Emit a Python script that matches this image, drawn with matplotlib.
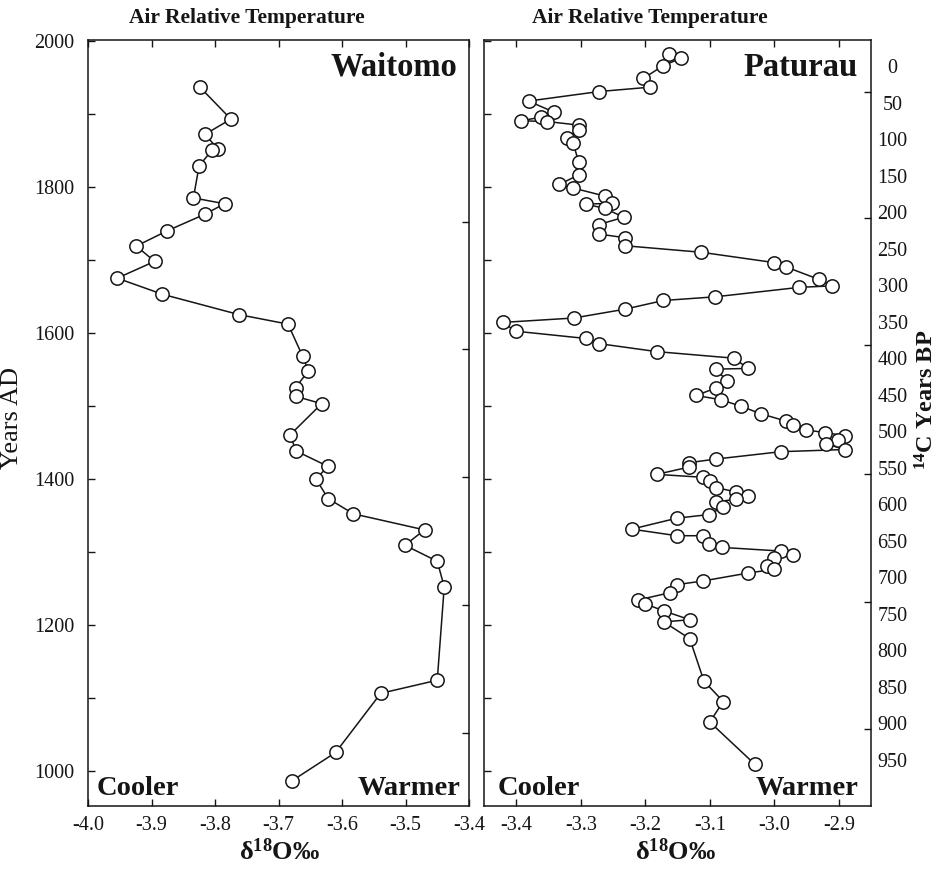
import matplotlib
matplotlib.use('Agg')
import matplotlib.pyplot as plt
from matplotlib.ticker import MultipleLocator, FixedLocator, NullFormatter

plt.rcParams['font.family'] = ['Liberation Serif', 'DejaVu Serif']
plt.rcParams['mathtext.fontset'] = 'custom'
plt.rcParams['mathtext.rm'] = 'Liberation Serif'
plt.rcParams['mathtext.bf'] = 'Liberation Serif:bold'
plt.rcParams['mathtext.it'] = 'Liberation Serif:italic'

# ---------------- data ----------------
waitomo_d18o = [-3.824, -3.775, -3.816, -3.795, -3.805, -3.825, -3.834, -3.785, -3.815,
                -3.875, -3.924, -3.895, -3.954, -3.883, -3.762, -3.685, -3.662, -3.653,
                -3.673, -3.673, -3.632, -3.682, -3.672, -3.622, -3.641, -3.622, -3.582,
                -3.470, -3.501, -3.450, -3.439, -3.450, -3.539, -3.610, -3.679]
waitomo_year_ad = [1937, 1893, 1872, 1852, 1850, 1829, 1785, 1777, 1763,
                   1740, 1719, 1698, 1675, 1653, 1625, 1612, 1568, 1548,
                   1525, 1513, 1503, 1460, 1438, 1417, 1400, 1373, 1352,
                   1330, 1309, 1287, 1252, 1124, 1106, 1025, 986]

paturau_d18o = [-3.163, -3.144, -3.173, -3.203, -3.193, -3.272, -3.381, -3.342, -3.362,
                -3.392, -3.352, -3.302, -3.302, -3.322, -3.312, -3.303, -3.303, -3.333,
                -3.312, -3.263, -3.251, -3.292, -3.263, -3.233, -3.272, -3.272, -3.232,
                -3.232, -3.113, -3.001, -2.982, -2.931, -2.911, -2.961, -3.092, -3.172,
                -3.232, -3.311, -3.421, -3.401, -3.292, -3.272, -3.182, -3.062, -3.041,
                -3.091, -3.073, -3.091, -3.121, -3.082, -3.051, -3.021, -2.982, -2.971,
                -2.951, -2.921, -2.890, -2.901, -2.920, -2.891, -2.990, -3.090, -3.132,
                -3.132, -3.182, -3.111, -3.100, -3.090, -3.060, -3.041, -3.060, -3.091,
                -3.080, -3.101, -3.151, -3.221, -3.151, -3.111, -3.101, -3.081, -2.990,
                -2.971, -3.000, -3.011, -3.000, -3.040, -3.111, -3.151, -3.162, -3.211,
                -3.201, -3.171, -3.131, -3.171, -3.131, -3.109, -3.079, -3.100, -3.030]
paturau_year_bp = [-17, -11, 0, 17, 29, 35, 48, 63, 70,
                   75, 76, 81, 87, 98, 105, 132, 149, 162,
                   167, 178, 188, 189, 195, 207, 217, 230, 235,
                   246, 255, 269, 275, 292, 301, 303, 316, 321,
                   333, 345, 351, 363, 373, 380, 391, 400, 414,
                   415, 431, 441, 451, 457, 466, 476, 486, 491,
                   498, 502, 506, 512, 517, 525, 528, 538, 543,
                   549, 559, 563, 568, 577, 583, 588, 593, 597,
                   604, 614, 619, 634, 643, 643, 654, 659, 664,
                   669, 674, 684, 689, 694, 705, 710, 721, 731,
                   736, 746, 758, 761, 784, 842, 870, 898, 956]

x_ticks_left = [-4.0, -3.9, -3.8, -3.7, -3.6, -3.5, -3.4]
x_ticks_right = [-3.4, -3.3, -3.2, -3.1, -3.0, -2.9]
ad_ticks = [1000, 1200, 1400, 1600, 1800, 2000]
bp_ticks = list(range(0, 1000, 50))
# stray tick marks on the right-hand frames
left_panel_right_ticks_ad = [1752, 1578, 1402, 1227, 1052]
right_panel_right_ticks_bp = [35, 208, 382, 558, 734, 908]

# ---------------- layout ----------------
W, H = 948, 872
fig = plt.figure(figsize=(W / 100, H / 100), dpi=100)
fig.patch.set_facecolor('white')


def px_axes(x0, y0, x1, y1):
    return fig.add_axes([x0 / W, 1 - y1 / H, (x1 - x0) / W, (y1 - y0) / H])


def ftext(x, y, s, **kw):
    fig.text(x / W, 1 - y / H, s, **kw)


ink = '#151515'
AD_LIM = (951.6, 2001.4)
BP_LIM = (1013.0, -35.6)

ax1 = px_axes(88, 40, 469, 806)
ax2 = px_axes(484, 40, 871, 806)

for ax in (ax1, ax2):
    for sp in ax.spines.values():
        sp.set_linewidth(1.1)
        sp.set_color(ink)
    ax.tick_params(axis='both', which='both', direction='in', colors=ink,
                   labelsize=14.5, width=1.0)
    ax.tick_params(axis='both', which='major', length=5)
    ax.tick_params(axis='both', which='minor', length=5)
    ax.tick_params(axis='x', which='both', top=True, bottom=True, pad=7)

# ---- left panel (Waitomo) ----
ax1.plot(waitomo_d18o, waitomo_year_ad, '-', color=ink, lw=1.1,
         marker='o', ms=9.6, mfc='white', mec=ink, mew=1.1, zorder=3)
ax1.set_xlim(-4.0, -3.4)
ax1.set_ylim(*AD_LIM)
ax1.set_xticks(x_ticks_left)
ax1.set_xticklabels([f'{v:.1f}' for v in x_ticks_left])
ax1.set_yticks(ad_ticks)
ax1.yaxis.set_minor_locator(MultipleLocator(100))
ax1.tick_params(axis='y', which='both', left=True, right=False, pad=10)

ax1b = ax1.twinx()
ax1b.set_ylim(*AD_LIM)
for sp in ax1b.spines.values():
    sp.set_visible(False)
ax1b.set_yticks(left_panel_right_ticks_ad)
ax1b.yaxis.set_major_formatter(NullFormatter())
ax1b.tick_params(axis='y', direction='in', length=5, width=1.0, colors=ink)

# ---- right panel (Paturau) ----
ax2.set_xlim(-3.45, -2.85)
ax2.set_ylim(*AD_LIM)
ax2.set_xticks(x_ticks_right)
ax2.set_xticklabels([f'{v:.1f}' for v in x_ticks_right])
ax2.yaxis.set_major_locator(MultipleLocator(100))
ax2.yaxis.set_major_formatter(NullFormatter())
ax2.tick_params(axis='y', which='both', left=True, right=False)

ax3 = ax2.twinx()
ax3.set_ylim(*BP_LIM)
for sp in ax3.spines.values():
    sp.set_visible(False)
ax3.plot(paturau_d18o, paturau_year_bp, '-', color=ink, lw=1.1,
         marker='o', ms=9.6, mfc='white', mec=ink, mew=1.1, zorder=3)
ax3.set_yticks(bp_ticks)
ax3.set_yticklabels([str(v) for v in bp_ticks], ha='center')
ax3.tick_params(axis='y', which='major', length=0, pad=15.5, labelsize=14.5, colors=ink)
ax3.yaxis.set_minor_locator(FixedLocator(right_panel_right_ticks_bp))
ax3.tick_params(axis='y', which='minor', direction='in', length=5, width=1.0,
                colors=ink, right=True)

# ---------------- texts ----------------
ftext(247, 18, 'Air Relative Temperature', ha='center', va='center',
      fontsize=15.5, fontweight='bold', color=ink)
ftext(650, 18, 'Air Relative Temperature', ha='center', va='center',
      fontsize=15.5, fontweight='bold', color=ink)

ftext(457, 67, 'Waitomo', ha='right', va='center', fontsize=23.5,
      fontweight='bold', color=ink)
ftext(858, 67, 'Paturau', ha='right', va='center', fontsize=23.5,
      fontweight='bold', color=ink)

for xl, xr in ((97, 460), (498, 858)):
    ftext(xl, 788, 'Cooler', ha='left', va='center', fontsize=20.5,
          fontweight='bold', color=ink)
    ftext(xr, 788, 'Warmer', ha='right', va='center', fontsize=20.5,
          fontweight='bold', color=ink)

xlab = r'δ$^{\mathbf{18}}$O‰'
ftext(280, 852, xlab, ha='center', va='center', fontsize=19,
      fontweight='bold', color=ink)
ftext(676, 852, xlab, ha='center', va='center', fontsize=19,
      fontweight='bold', color=ink)

ftext(12, 418, 'Years AD', ha='center', va='center', rotation=90,
      fontsize=19, color=ink)
ftext(927, 400, r'$^{\mathbf{14}}$C Years BP', ha='center', va='center',
      rotation=90, fontsize=17.5, fontweight='bold', color=ink)

fig.savefig('out.png', dpi=100, facecolor='white')
